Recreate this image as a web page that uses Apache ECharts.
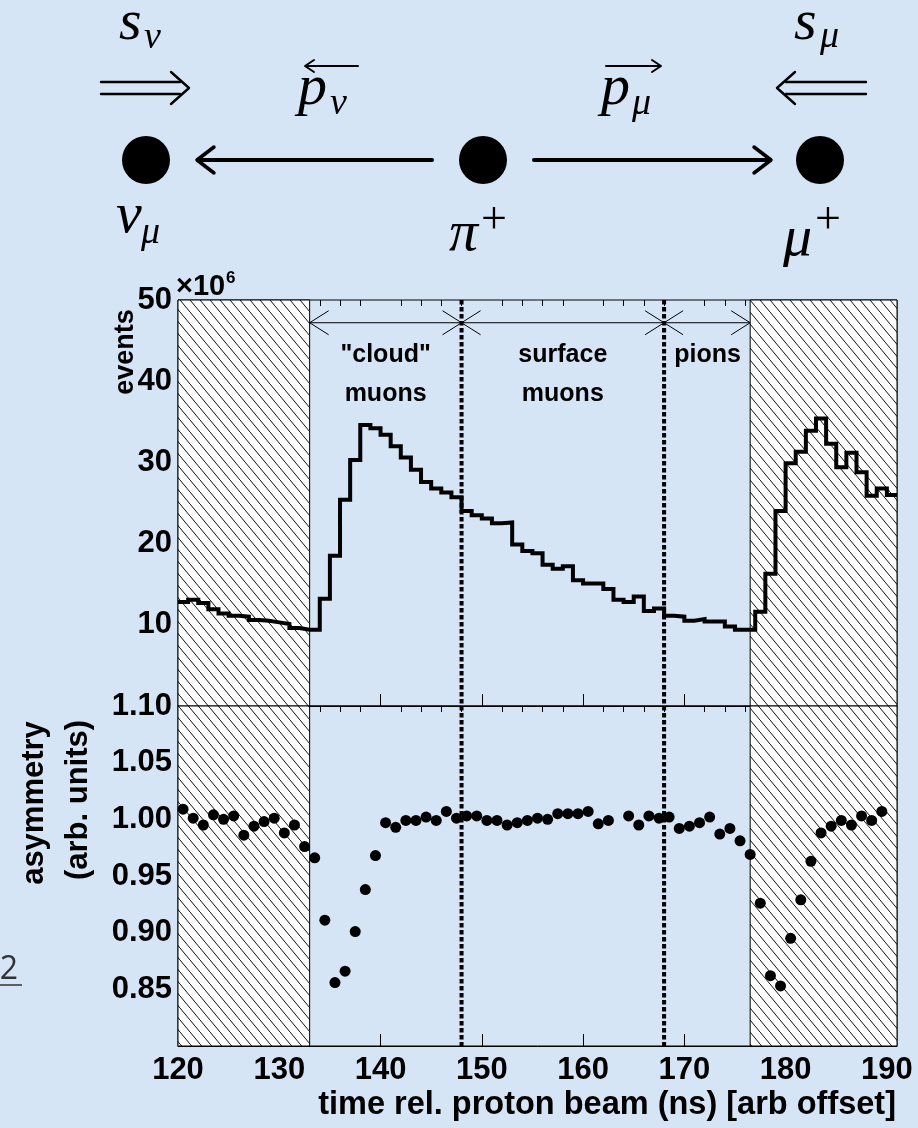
<!DOCTYPE html>
<html>
<head>
<meta charset="utf-8">
<script src="https://cdn.jsdelivr.net/npm/echarts@6/dist/echarts.min.js"></script>
<style>
  html, body { margin: 0; padding: 0; background: #d5e5f5; }
  #chart { width: 918px; height: 1128px; }
</style>
</head>
<body>
<div id="chart"></div>
<script>
// ---- data -------------------------------------------------------------
// lower edge of each 1 ns time bin
const timeBins = [
  120,121,122,123,124,125,126,127,128,129,130,131,132,133,134,135,136,137,138,139,
  140,141,142,143,144,145,146,147,148,149,150,151,152,153,154,155,156,157,158,159,
  160,161,162,163,164,165,166,167,168,169,170,171,172,173,174,175,176,177,178,179,
  180,181,182,183,184,185,186,187,188,189,190
];
const binWidth = 1;
// events per bin, in units of 10^6
const eventsMillions = [
  12.8,13.1,12.7,11.9,11.4,11.1,11.0,10.6,10.5,10.3,10.1,9.6,9.4,9.4,
  13.2,18.5,25.4,30.3,34.6,34.2,33.4,32.0,30.6,29.1,27.6,26.8,26.3,25.7,
  24.0,23.5,23.1,22.5,22.6,19.9,19.1,18.8,17.4,16.9,17.2,15.5,15.1,15.1,14.4,13.1,12.8,
  13.5,11.7,12.0,11.1,11.0,10.5,10.7,10.4,10.4,9.8,9.4,9.4,
  11.6,16.3,24.0,29.9,31.3,33.9,35.4,32.3,29.4,31.2,28.8,25.9,26.8,26.0
];
// decay asymmetry per bin (arb. units); null = no measurement
const asymmetry = [
  1.009,1.001,0.995,1.004,1.000,1.003,0.986,0.994,0.998,1.001,0.988,0.995,0.976,
  0.966,0.911,0.856,0.866,0.901,0.938,0.968,
  0.997,0.993,0.999,0.999,1.002,0.999,1.007,1.001,1.003,1.003,
  0.999,0.999,0.995,0.997,0.999,1.001,1.000,1.005,1.005,1.005,
  1.007,0.996,0.999,null,1.003,0.995,1.003,1.001,1.002,0.992,
  0.994,0.997,1.002,0.987,0.992,0.981,0.969,0.926,0.862,0.853,
  0.895,0.929,0.963,0.988,0.994,0.999,0.995,1.003,0.999,1.007,
  null
];
const timeRange = [120, 191];
const eventsRange = [0, 50];
const asymRange = [0.80, 1.10];
const timeMajorTicks = [120,130,140,150,160,170,180,190];
const timeMinorTicks = [];
for (let t = 122; t < 191; t += 2) if (t % 10 !== 0) timeMinorTicks.push(t);
// time windows excluded from the analysis (hatched)
const excludedWindows = [[120, 133], [176.5, 191]];
// boundaries between the beam-time regions
const regionEdges = [133, 148, 168, 176.5];
const regionDividers = [148, 168];
const regionArrowLevel = 47.2;
const regionNames = [
  { lines: ['"cloud"', 'muons'], at: 140.5 },
  { lines: ['surface', 'muons'], at: 158 },
  { lines: ['pions'], at: 172.3 }
];

// ---- helpers ------------------------------------------------------------
const SANS = '"Liberation Sans", Arial, Helvetica, sans-serif';
const SERIF = '"Liberation Serif", "Times New Roman", serif';

function hatchTile() {
  const c = document.createElement('canvas');
  c.width = 10; c.height = 12;
  const g = c.getContext('2d');
  g.fillStyle = '#ffffff';
  g.fillRect(0, 0, 10, 12);
  g.strokeStyle = '#111111';
  g.lineWidth = 1;
  g.beginPath();
  g.moveTo(-1, -1.2);
  g.lineTo(11, 13.2);
  g.stroke();
  return c;
}
const hatchFill = { image: hatchTile(), repeat: 'repeat' };

const histPoints = timeBins.map((t, i) => [t, eventsMillions[i]]);
histPoints.push([timeBins[timeBins.length - 1] + binWidth, eventsMillions[eventsMillions.length - 1]]);

const asymPoints = [];
timeBins.forEach((t, i) => {
  if (asymmetry[i] !== null) asymPoints.push([t + binWidth / 2, asymmetry[i]]);
});

function hatchSeries(xi, yi) {
  return {
    type: 'custom', xAxisIndex: xi, yAxisIndex: yi, z: 1, silent: true,
    encode: { x: [0, 1] },
    data: excludedWindows,
    renderItem(params, api) {
      const cs = params.coordSys;
      const x0 = api.coord([api.value(0), 0])[0];
      const x1 = api.coord([api.value(1), 0])[0];
      return {
        type: 'rect',
        shape: { x: x0, y: cs.y, width: x1 - x0, height: cs.height },
        style: { fill: hatchFill, stroke: '#000', lineWidth: 1 }
      };
    }
  };
}

function dividerSeries(xi, yi) {
  return {
    type: 'custom', xAxisIndex: xi, yAxisIndex: yi, z: 4, silent: true,
    encode: { x: 0 },
    data: regionDividers.map(v => [v]),
    renderItem(params, api) {
      const cs = params.coordSys;
      const x = api.coord([api.value(0), 0])[0];
      return {
        type: 'line',
        shape: { x1: x, y1: cs.y, x2: x, y2: cs.y + cs.height },
        style: { stroke: '#000', lineWidth: 4, lineDash: [4.5, 2.5] }
      };
    }
  };
}

// ---- diagram of the pion decay ---------------------------------------------
function mathText(str, x, baseline, size, italic) {
  return {
    type: 'text', z: 10,
    style: {
      text: str, x: x, y: baseline - 0.3375 * size,
      font: (italic ? 'italic ' : '') + size + 'px ' + SERIF,
      fill: '#000', align: 'left', verticalAlign: 'middle'
    }
  };
}
function seg(x1, y1, x2, y2, w) {
  return { type: 'line', z: 10, shape: { x1, y1, x2, y2 }, style: { stroke: '#000', lineWidth: w, lineCap: 'round' } };
}
function barb(points, w) {
  return { type: 'polyline', z: 10, shape: { points }, style: { stroke: '#000', lineWidth: w, fill: null, lineJoin: 'round', lineCap: 'round' } };
}

const diagram = [];
[146, 483, 820].forEach(cx => diagram.push({ type: 'circle', z: 10, shape: { cx, cy: 160, r: 24 }, style: { fill: '#000' } }));
// momentum arrows
diagram.push(seg(432, 160, 198, 160, 4));
diagram.push(barb([[214, 147], [197, 160], [214, 173]], 3.5));
diagram.push(seg(534, 160, 770, 160, 4));
diagram.push(barb([[754, 147], [771, 160], [754, 173]], 3.5));
// spin double arrows
diagram.push(seg(101, 82, 180, 82, 2.4));
diagram.push(seg(101, 94, 180, 94, 2.4));
diagram.push(barb([[171, 72], [189, 88], [171, 104]], 2.4));
diagram.push(seg(786, 82, 866, 82, 2.4));
diagram.push(seg(786, 94, 866, 94, 2.4));
diagram.push(barb([[795, 72], [777, 88], [795, 104]], 2.4));
// vector arrows over p
diagram.push(seg(306, 66, 358, 66, 2));
diagram.push(barb([[314, 60], [305, 66], [314, 72]], 2));
diagram.push(seg(606, 66, 660, 66, 2));
diagram.push(barb([[652, 60], [661, 66], [652, 72]], 2));
// symbols
diagram.push(mathText('s', 119, 43, 58, true));
diagram.push(mathText('ν', 144, 51, 38, true));
diagram.push(mathText('p', 298, 108, 58, true));
diagram.push(mathText('ν', 330, 117, 38, true));
diagram.push(mathText('p', 601, 108, 58, true));
diagram.push(mathText('μ', 632, 117, 38, true));
diagram.push(mathText('s', 794, 43, 58, true));
diagram.push(mathText('μ', 820, 50, 38, true));
diagram.push(mathText('ν', 116, 236, 58, true));
diagram.push(mathText('μ', 141, 246, 38, true));
diagram.push(mathText('π', 449, 254, 58, true));
diagram.push(mathText('+', 481, 236, 46, false));
diagram.push(mathText('μ', 783, 259, 58, true));
diagram.push(mathText('+', 815, 236, 46, false));

// ---- labels -----------------------------------------------------------------
const labels = [
  { type: 'text', z: 10, style: { text: '×10', x: 176, y: 287, font: 'bold 29px ' + SANS, fill: '#000', align: 'left', verticalAlign: 'middle' } },
  { type: 'text', z: 10, style: { text: '6', x: 226, y: 278, font: 'bold 17px ' + SANS, fill: '#000', align: 'left', verticalAlign: 'middle' } },
  { type: 'text', z: 10, rotation: Math.PI / 2, x: 126, y: 352,
    style: { text: 'events', x: 0, y: 0, font: 'bold 27px ' + SANS, fill: '#000', align: 'center', verticalAlign: 'middle' } },
  { type: 'text', z: 10, rotation: Math.PI / 2, x: 34, y: 803,
    style: { text: 'asymmetry', x: 0, y: 0, font: 'bold 31px ' + SANS, fill: '#000', align: 'center', verticalAlign: 'middle' } },
  { type: 'text', z: 10, rotation: Math.PI / 2, x: 78, y: 800,
    style: { text: '(arb. units)', x: 0, y: 0, font: 'bold 31px ' + SANS, fill: '#000', align: 'center', verticalAlign: 'middle' } },
  { type: 'text', z: 10, style: { text: 'time rel. proton beam (ns) [arb offset]', x: 896, y: 1105, font: 'bold 32.5px ' + SANS, fill: '#000', align: 'right', verticalAlign: 'middle' } },
  { type: 'text', z: 10, style: { text: '2', x: 18, y: 970, font: '32px "Open Sans", sans-serif', fill: '#333', align: 'right', verticalAlign: 'middle' } },
  { type: 'line', z: 10, shape: { x1: 0, y1: 985, x2: 22, y2: 985 }, style: { stroke: '#333', lineWidth: 1.5 } }
];

// ---- chart ------------------------------------------------------------------
const chart = echarts.init(document.getElementById('chart'), null, { renderer: 'canvas' });

const tickStyle = { color: '#000', width: 1 };
function timeAxis(grid, major, withLabels) {
  return {
    type: 'value', gridIndex: grid, min: timeRange[0], max: timeRange[1],
    axisLine: { show: major, lineStyle: { color: '#000', width: 1 } },
    axisTick: { show: true, inside: true, length: major ? 12 : 6, lineStyle: tickStyle,
                customValues: major ? timeMajorTicks : timeMinorTicks },
    axisLabel: withLabels
      ? { show: true, customValues: timeMajorTicks, color: '#000', fontFamily: SANS, fontWeight: 'bold', fontSize: 31, margin: 9 }
      : { show: false },
    splitLine: { show: false }
  };
}

const option = {
  backgroundColor: '#d5e5f5',
  animation: false,
  grid: [
    { left: 178, top: 300, width: 719, height: 406, show: true, borderColor: '#000', borderWidth: 1, backgroundColor: 'transparent' },
    { left: 178, top: 706, width: 719, height: 340, show: true, borderColor: '#000', borderWidth: 1, backgroundColor: 'transparent' }
  ],
  xAxis: [
    timeAxis(0, true, false),
    timeAxis(0, false, false),
    timeAxis(1, true, true),
    timeAxis(1, false, false)
  ],
  yAxis: [
    {
      type: 'value', gridIndex: 0, min: eventsRange[0], max: eventsRange[1], interval: 10,
      axisLine: { show: true, lineStyle: { color: '#000', width: 1 } },
      axisTick: { show: true, inside: true, length: 22, lineStyle: tickStyle },
      minorTick: { show: true, splitNumber: 5, length: 11, lineStyle: tickStyle },
      axisLabel: { color: '#000', fontFamily: SANS, fontWeight: 'bold', fontSize: 31, margin: 6,
                   formatter: v => (v === 0 ? '' : String(v)) },
      splitLine: { show: false }
    },
    {
      type: 'value', gridIndex: 1, min: asymRange[0], max: asymRange[1], interval: 0.05,
      axisLine: { show: true, lineStyle: { color: '#000', width: 1 } },
      axisTick: { show: true, inside: true, length: 20, lineStyle: tickStyle },
      minorTick: { show: true, splitNumber: 5, length: 10, lineStyle: tickStyle },
      axisLabel: { color: '#000', fontFamily: SANS, fontWeight: 'bold', fontSize: 31, margin: 6,
                   formatter: v => (v < 0.825 ? '' : v.toFixed(2)) },
      splitLine: { show: false }
    }
  ],
  series: [
    hatchSeries(0, 0),
    hatchSeries(2, 1),
    {
      name: 'events', type: 'line', xAxisIndex: 0, yAxisIndex: 0, z: 3,
      step: 'end', showSymbol: false, symbol: 'none', silent: true,
      lineStyle: { color: '#000', width: 4, join: 'miter' },
      data: histPoints
    },
    {
      name: 'asymmetry', type: 'scatter', xAxisIndex: 2, yAxisIndex: 1, z: 5,
      symbol: 'circle', symbolSize: 11, silent: true,
      itemStyle: { color: '#000', opacity: 1 },
      data: asymPoints
    },
    dividerSeries(0, 0),
    dividerSeries(2, 1),
    {
      // region extent arrows along the top of the event histogram
      type: 'custom', xAxisIndex: 0, yAxisIndex: 0, z: 6, silent: true,
      encode: { x: [0, 1] },
      data: regionEdges.slice(0, -1).map((e, i) => [e, regionEdges[i + 1]]),
      renderItem(params, api) {
        const a = api.coord([api.value(0), regionArrowLevel]);
        const b = api.coord([api.value(1), regionArrowLevel]);
        const st = { stroke: '#000', lineWidth: 1, fill: null };
        return {
          type: 'group',
          children: [
            { type: 'line', shape: { x1: a[0], y1: a[1], x2: b[0], y2: b[1] }, style: st },
            { type: 'polyline', shape: { points: [[a[0] + 19, a[1] - 12], a, [a[0] + 19, a[1] + 12]] }, style: st },
            { type: 'polyline', shape: { points: [[b[0] - 19, b[1] - 12], b, [b[0] - 19, b[1] + 12]] }, style: st }
          ]
        };
      }
    },
    {
      // names of the beam-time regions
      type: 'custom', xAxisIndex: 0, yAxisIndex: 0, z: 6, silent: true,
      encode: { x: 0 },
      data: regionNames.map(r => [r.at]),
      renderItem(params, api) {
        const r = regionNames[params.dataIndex];
        const p = api.coord([api.value(0), 0]);
        return {
          type: 'group',
          children: r.lines.map((t, k) => ({
            type: 'text',
            style: { text: t, x: p[0], y: 355 + 39 * k, font: 'bold 25px ' + SANS, fill: '#000', align: 'center', verticalAlign: 'middle' }
          }))
        };
      }
    }
  ],
  graphic: { elements: diagram.concat(labels) }
};

chart.setOption(option);
</script>
</body>
</html>
